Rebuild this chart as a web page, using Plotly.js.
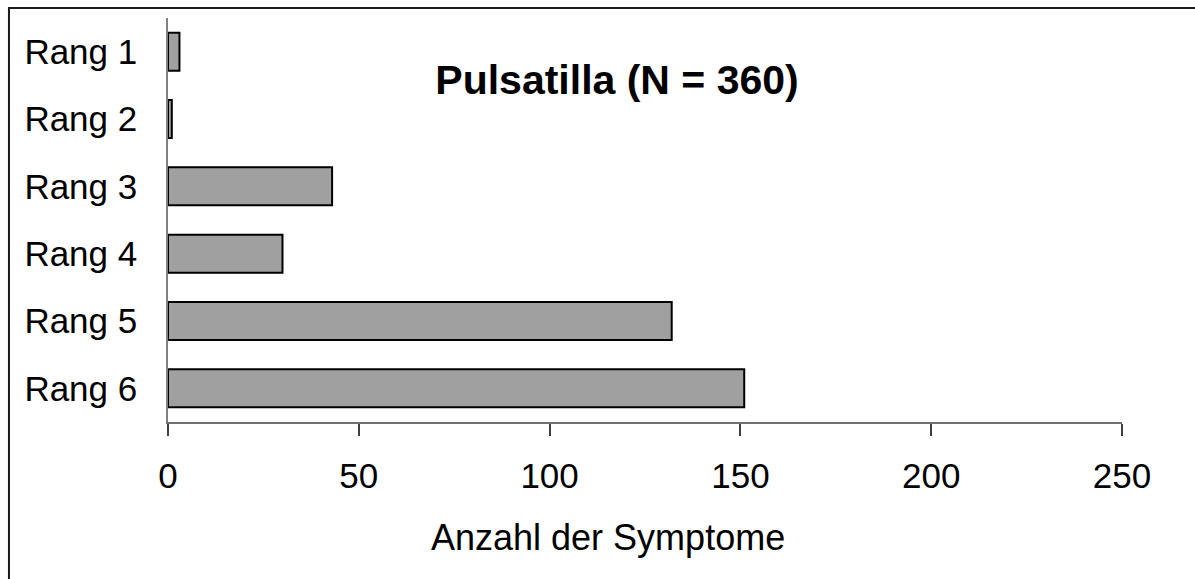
<!DOCTYPE html>
<html>
<head>
<meta charset="utf-8">
<script src="https://cdn.plot.ly/plotly-3.0.1.min.js"></script>
<style>html,body{margin:0;padding:0;background:#fff;}#chart{width:1195px;height:579px;}</style>
</head>
<body>
<div id="chart"></div>
<script>
const categories = ["Rang 1", "Rang 2", "Rang 3", "Rang 4", "Rang 5", "Rang 6"];
const counts = [3, 1, 43, 30, 132, 151];
const xTicks = [0, 50, 100, 150, 200, 250];
const chartTitle = "Pulsatilla (N = 360)";
const xTitle = "Anzahl der Symptome";

const font = "Liberation Sans, Arial, sans-serif";

const trace = {
  type: "bar",
  orientation: "h",
  y: categories,
  x: counts,
  width: 0.565,
  marker: { color: "#a0a0a0", line: { color: "#000000", width: 2 } },
  hoverinfo: "x+y"
};

const layout = {
  width: 1195, height: 579,
  margin: { l: 168, r: 73, t: 18, b: 157, pad: 0 },
  paper_bgcolor: "#ffffff", plot_bgcolor: "#ffffff",
  showlegend: false,
  font: { family: font, color: "#000000", size: 35 },
  title: {
    text: "<b>" + chartTitle + "</b>",
    font: { family: font, size: 41, color: "#000000" },
    xref: "paper", yref: "paper",
    x: 0.4707, xanchor: "center",
    y: 0.8465, yanchor: "middle"
  },
  xaxis: {
    range: [0, 250],
    tickvals: xTicks,
    ticktext: xTicks.map(String),
    showgrid: false, zeroline: false,
    showline: true, linecolor: "#707070", linewidth: 1.5,
    ticks: "outside", ticklen: 12, tickcolor: "#404040", tickwidth: 1.5,
    tickfont: { family: font, size: 35, color: "#000000" },
    ticklabelstandoff: 10,
    fixedrange: true
  },
  yaxis: {
    type: "category",
    categoryorder: "array", categoryarray: categories,
    autorange: false, range: [5.5, -0.5],
    showgrid: false, zeroline: false,
    showline: true, linecolor: "#808080", linewidth: 1.5,
    ticks: "",
    tickfont: { family: font, size: 35, color: "#000000" },
    ticklabelstandoff: 22,
    fixedrange: true
  },
  annotations: [
    { text: xTitle, xref: "paper", yref: "paper",
      x: 0.4612, xanchor: "center", y: -0.287, yanchor: "middle",
      showarrow: false, font: { family: font, size: 36, color: "#000000" } }
  ],
  shapes: [
    { type: "path", xref: "paper", yref: "paper",
      path: "M -0.1667 -0.45 L -0.1667 1.0248 L 1.09 1.0248",
      line: { color: "#1a1a1a", width: 2 } }
  ]
};

Plotly.newPlot("chart", [trace], layout, { displayModeBar: false });
</script>
</body>
</html>
